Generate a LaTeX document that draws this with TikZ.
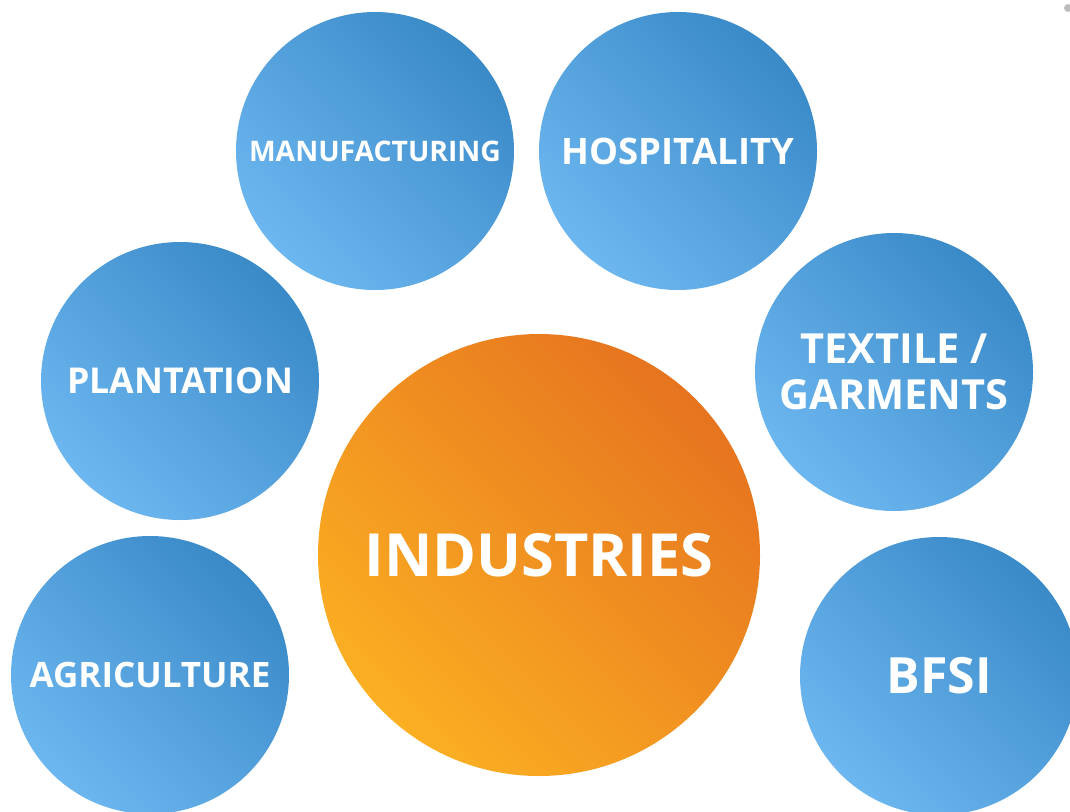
\documentclass[tikz,border=0pt]{standalone}
\usepackage{fontspec}
\setmainfont{Open Sans}
\definecolor{bluedark}{HTML}{3A8AC8}
\definecolor{bluelight}{HTML}{6DB7F0}
\definecolor{orangedark}{HTML}{E6741F}
\definecolor{orangelight}{HTML}{FBAF22}
\definecolor{dotgray}{HTML}{BDBDBD}

\begin{document}
\begin{tikzpicture}[x=1pt, y=-1pt,
  sector/.style={circle, minimum size=278pt, inner sep=0pt, text=white, align=center,
    font=\bfseries\fontsize{#1}{#1}\selectfont,
    top color=bluedark, bottom color=bluelight, shading angle=-45},
  sector/.default=36,
  core/.style={sector=#1, minimum size=442pt, top color=orangedark, bottom color=orangelight, shading angle=-45}]
\useasboundingbox (0,0) rectangle (1070,811);
\clip (0,0) rectangle (1070,811);

\node[sector=28.3] (manuf) at (375,151) {MANUFACTURING};
\node[sector=36.5] (hosp) at (678,151) {HOSPITALITY};
\node[sector=35.6] (plant) at (180,381) {PLANTATION};
\node[sector=41.5, font=\bfseries\fontsize{41.5}{46}\selectfont] (textile) at (894,372) {TEXTILE /\\GARMENTS};
\node[sector=35] (agri) at (150,675) {AGRICULTURE};
\node[sector=50] (bfsi) at (939,676) {BFSI};

\node[core=59.5] (ind) at (539,555) {INDUSTRIES};

\node[circle, fill=dotgray, minimum size=8pt, inner sep=0pt] (dot) at (1068,8) {};
\end{tikzpicture}
\end{document}
